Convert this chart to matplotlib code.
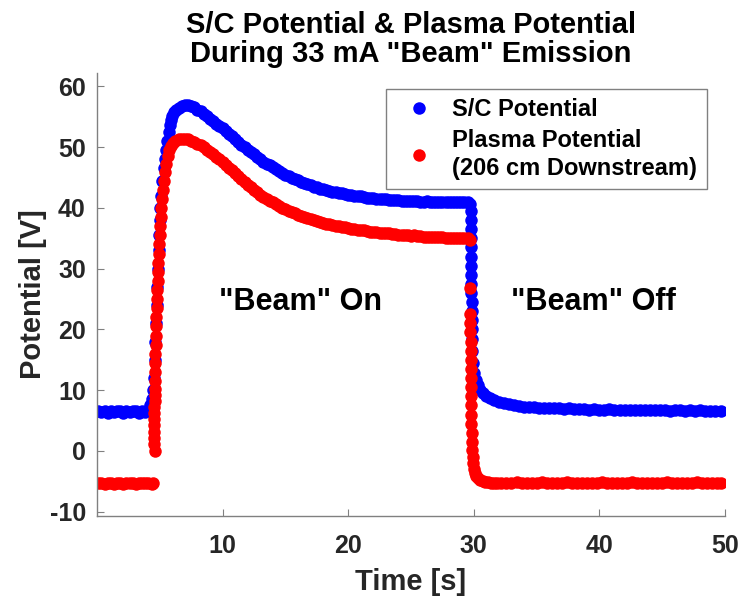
import matplotlib
matplotlib.use('Agg')
import matplotlib.pyplot as plt

# values
# S/C potential (blue)
t_sc = [0.1, 0.35, 0.6, 0.85, 1.1, 1.35, 1.6, 1.85, 2.1, 2.35, 2.6, 2.85, 3.1, 3.35, 3.6, 3.85,
        4.05, 4.25, 4.4, 4.5, 4.55, 4.6, 4.65, 4.7, 4.75, 4.8, 4.85, 4.9, 4.95, 5.0, 5.05, 5.1,
        5.2, 5.3, 5.4, 5.5, 5.6, 5.7, 5.8, 5.9, 6.0, 6.15, 6.3, 6.5, 6.75, 7.0, 7.25, 7.5,
        7.75, 8.0, 8.25, 8.5, 8.75, 9.0, 9.25, 9.5, 9.75, 10.0, 10.25, 10.5, 10.75, 11.0,
        11.25, 11.5, 11.75, 12.0, 12.25, 12.5, 12.75, 13.0, 13.25, 13.5, 13.75, 14.0, 14.25,
        14.5, 14.75, 15.0, 15.25, 15.5, 15.75, 16.0, 16.25, 16.5, 16.75, 17.0, 17.25, 17.5,
        17.75, 18.0, 18.25, 18.5, 18.75, 19.0, 19.25, 19.5, 19.75, 20.0, 20.25, 20.5, 20.75,
        21.0, 21.25, 21.5, 21.75, 22.0, 22.25, 22.5, 22.75, 23.0, 23.25, 23.5, 23.75, 24.0,
        24.25, 24.5, 24.75, 25.0, 25.25, 25.5, 25.75, 26.0, 26.25, 26.5, 26.75, 27.0, 27.25,
        27.5, 27.75, 28.0, 28.25, 28.5, 28.75, 29.0, 29.25, 29.5, 29.7,
        29.77, 29.78, 29.78, 29.79, 29.79, 29.8, 29.8, 29.8, 29.81, 29.81, 29.82, 29.82,
        29.83, 29.84, 29.85, 29.87, 29.9, 30.0, 30.15, 30.3, 30.5, 30.75, 31.0, 31.3, 31.6,
        32.0, 32.4, 32.8, 33.2, 33.6, 34.0, 34.4, 34.8, 35.2, 35.6, 36.0, 36.4, 36.8, 37.2,
        37.6, 38.0, 38.4, 38.8, 39.2, 39.6, 40.0, 40.4, 40.8, 41.2, 41.6, 42.0, 42.4, 42.8,
        43.2, 43.6, 44.0, 44.4, 44.8, 45.2, 45.6, 46.0, 46.4, 46.8, 47.2, 47.6, 48.0, 48.4,
        48.8, 49.2, 49.7]
v_sc = [6.5, 6.4, 6.6, 6.3, 6.5, 6.4, 6.6, 6.5, 6.3, 6.5, 6.4, 6.6, 6.5, 6.3, 6.5, 6.4,
        6.8, 7.6, 8.6, 10.0, 12.0, 15.0, 18.0, 21.0, 24.0, 27.0, 30.0, 33.0, 35.5, 38.0, 40.0, 42.0,
        44.5, 46.5, 48.0, 49.5, 51.0, 52.5, 53.6, 54.5, 55.2, 55.8, 56.2, 56.5, 56.8, 56.9, 56.9, 56.8,
        56.6, 56.2, 55.9, 55.5, 55.1, 54.7, 54.3, 53.9, 53.5, 53.1, 52.7, 52.2, 51.8, 51.3,
        50.9, 50.4, 50.0, 49.6, 49.2, 48.8, 48.4, 48.0, 47.6, 47.3, 47.0, 46.7, 46.4,
        46.1, 45.8, 45.5, 45.2, 45.0, 44.8, 44.6, 44.3, 44.1, 43.9, 43.7, 43.5, 43.4,
        43.2, 43.1, 42.9, 42.8, 42.7, 42.6, 42.5, 42.4, 42.3, 42.2, 42.1, 42.0, 42.0,
        41.9, 41.8, 41.7, 41.7, 41.6, 41.5, 41.5, 41.4, 41.4, 41.3, 41.3, 41.3, 41.3,
        41.2, 41.2, 41.1, 41.1, 41.1, 41.1, 41.0, 41.0, 41.1, 41.0, 41.0, 41.0, 40.9,
        40.9, 41.0, 40.9, 40.9, 41.0, 40.9, 40.9, 40.9, 40.9, 40.7,
        39.5, 38.0, 36.5, 35.0, 33.5, 32.0, 30.5, 29.0, 27.5, 26.0, 24.5, 23.0,
        21.5, 20.0, 18.5, 16.5, 14.5, 12.8, 11.6, 10.8, 10.1, 9.6, 9.1, 8.7, 8.4,
        8.1, 7.9, 7.7, 7.5, 7.4, 7.3, 7.2, 7.2, 7.1, 7.1, 7.0, 7.0, 7.0, 6.9,
        7.0, 6.9, 6.9, 6.9, 6.8, 6.9, 6.8, 6.8, 6.9, 6.8, 6.8, 6.7, 6.8, 6.7,
        6.8, 6.7, 6.7, 6.8, 6.7, 6.7, 6.6, 6.7, 6.7, 6.6, 6.7, 6.6, 6.7, 6.6,
        6.5, 6.6, 6.5]

# plasma potential, 206 cm downstream (red)
t_pl = [0.1, 0.35, 0.6, 0.85, 1.1, 1.35, 1.6, 1.85, 2.1, 2.35, 2.6, 2.85, 3.1, 3.35, 3.6, 3.85,
        4.1, 4.35, 4.5,
        4.58, 4.55, 4.55, 4.55, 4.56, 4.56, 4.57, 4.57, 4.58, 4.59, 4.6, 4.61, 4.62, 4.64, 4.65,
        4.67, 4.69, 4.71, 4.73, 4.75, 4.77, 4.8, 4.82, 4.85, 4.88, 4.91, 4.94, 4.98, 5.02, 5.07,
        5.12, 5.18, 5.25, 5.33, 5.42, 5.52, 5.63, 5.75, 5.9, 6.05, 6.25, 6.5, 6.75, 7.0, 7.25,
        7.5, 7.75, 8.0, 8.25, 8.5, 8.75, 9.0, 9.25, 9.5, 9.75, 10.0, 10.25, 10.5, 10.75, 11.0,
        11.25, 11.5, 11.75, 12.0, 12.25, 12.5, 12.75, 13.0, 13.25, 13.5, 13.75, 14.0, 14.25,
        14.5, 14.75, 15.0, 15.25, 15.5, 15.75, 16.0, 16.25, 16.5, 16.75, 17.0, 17.25, 17.5,
        17.75, 18.0, 18.25, 18.5, 18.75, 19.0, 19.25, 19.5, 19.75, 20.0, 20.25, 20.5, 20.75,
        21.0, 21.25, 21.5, 21.75, 22.0, 22.25, 22.5, 22.75, 23.0, 23.25, 23.5, 23.75, 24.0,
        24.25, 24.5, 24.75, 25.0, 25.25, 25.5, 25.75, 26.0, 26.25, 26.5, 26.75, 27.0, 27.25,
        27.5, 27.75, 28.0, 28.25, 28.5, 28.75, 29.0, 29.25, 29.5, 29.7,
        29.7, 29.7,
        29.72, 29.73, 29.74, 29.74, 29.75, 29.75, 29.76, 29.76, 29.77, 29.78, 29.79, 29.8,
        29.82, 29.84, 29.86, 29.9, 29.95, 30.02, 30.1, 30.2, 30.35, 30.5, 30.7, 30.9, 31.1,
        31.35, 31.6, 31.85, 32.2, 32.6, 33.0, 33.4, 33.8, 34.2, 34.6, 35.0, 35.4, 35.8, 36.2,
        36.6, 37.0, 37.4, 37.8, 38.2, 38.6, 39.0, 39.4, 39.8, 40.2, 40.6, 41.0, 41.4, 41.8,
        42.2, 42.6, 43.0, 43.4, 43.8, 44.2, 44.6, 45.0, 45.4, 45.8, 46.2, 46.6, 47.0, 47.4,
        47.8, 48.2, 48.6, 49.0, 49.4, 49.7]
v_pl = [-5.3, -5.2, -5.4, -5.3, -5.2, -5.4, -5.3, -5.3, -5.4, -5.2, -5.3, -5.3, -5.4, -5.2, -5.3, -5.3,
        -5.2, -5.4, -5.2,
        0.0, 1.2, 2.2, 3.2, 4.2, 5.2, 6.2, 7.2, 8.2, 9.2, 10.2, 11.5, 13.0, 14.5, 16.0,
        17.5, 19.0, 20.5, 22.0, 23.5, 25.0, 26.5, 28.0, 29.5, 31.0, 32.5, 34.0, 35.5, 37.0, 38.5,
        40.0, 41.5, 43.0, 44.5, 46.0, 47.3, 48.5, 49.5, 50.2, 50.7, 51.1, 51.3, 51.4, 51.4, 51.3,
        51.1, 50.9, 50.6, 50.3, 50.0, 49.6, 49.2, 48.8, 48.4, 48.0, 47.5, 47.1, 46.6, 46.2, 45.7,
        45.2, 44.7, 44.3, 43.8, 43.4, 43.0, 42.6, 42.2, 41.8, 41.5, 41.2, 40.9, 40.6,
        40.3, 40.0, 39.8, 39.5, 39.3, 39.1, 38.9, 38.7, 38.5, 38.3, 38.2, 38.0, 37.9,
        37.7, 37.6, 37.4, 37.3, 37.2, 37.1, 37.0, 36.9, 36.8, 36.7, 36.6, 36.5, 36.4,
        36.3, 36.3, 36.2, 36.1, 36.0, 36.0, 35.9, 35.9, 35.8, 35.8, 35.7, 35.7, 35.6,
        35.6, 35.5, 35.5, 35.4, 35.5, 35.4, 35.4, 35.3, 35.3, 35.3, 35.2, 35.2, 35.2,
        35.2, 35.1, 35.1, 35.1, 35.1, 35.0, 35.0, 35.0, 35.0, 34.8,
        26.8, 22.6,
        21.0, 19.5, 18.0, 16.5, 15.0, 13.5, 12.0, 10.5, 9.0, 7.5, 6.0, 4.5,
        3.0, 1.5, 0.2, -1.0, -2.0, -2.9, -3.6, -4.1, -4.5, -4.8, -5.0, -5.1, -5.1,
        -5.2, -5.2, -5.2, -5.2, -5.3, -5.2, -5.1, -5.2, -5.3, -5.2, -5.2, -5.1, -5.2, -5.3,
        -5.2, -5.2, -5.1, -5.2, -5.3, -5.2, -5.2, -5.3, -5.2, -5.1, -5.2, -5.2, -5.3, -5.2,
        -5.2, -5.1, -5.2, -5.3, -5.2, -5.2, -5.2, -5.3, -5.1, -5.2, -5.2, -5.3, -5.2, -5.2,
        -5.1, -5.2, -5.3, -5.2, -5.2, -5.2]

x_ticks = [10, 20, 30, 40, 50]
y_ticks = [-10, 0, 10, 20, 30, 40, 50, 60]

plt.rcParams['font.family'] = ['Liberation Sans', 'DejaVu Sans']
plt.rcParams['font.weight'] = 'bold'
plt.rcParams['axes.unicode_minus'] = False

fig = plt.figure(figsize=(7.38, 5.99), dpi=100)
ax = fig.add_axes([0.1314, 0.1386, 0.851, 0.7394])

ax.plot(t_sc, v_sc, 'o', color='#0000ff', ms=9, mec='none', label='S/C Potential')
ax.plot(t_pl, v_pl, 'o', color='#ff0000', ms=9, mec='none',
        label='Plasma Potential\n(206 cm Downstream)')

ax.set_xlim(0, 50)
ax.set_ylim(-10.7, 62.2)
ax.set_xticks(x_ticks)
ax.set_yticks(y_ticks)

for s in ('top', 'right'):
    ax.spines[s].set_visible(False)
for s in ('left', 'bottom'):
    ax.spines[s].set_color('#808080')
    ax.spines[s].set_linewidth(1.0)
ax.tick_params(direction='in', length=5, color='#808080', labelsize=18,
               labelcolor='#262626')
ax.tick_params(axis='x', pad=13)
ax.tick_params(axis='y', pad=8)
for lab in ax.get_xticklabels() + ax.get_yticklabels():
    lab.set_fontweight('bold')

ax.set_xlabel('Time [s]', fontsize=21, fontweight='bold', color='#262626', labelpad=7)
ax.set_ylabel('Potential [V]', fontsize=21, fontweight='bold', color='#262626', labelpad=2)
ax.set_title('S/C Potential & Plasma Potential\nDuring 33 mA "Beam" Emission',
             fontsize=21, fontweight='bold', color='black', pad=8, linespacing=1.05)

ax.text(16.2, 24.5, '"Beam" On', fontsize=22, fontweight='bold', ha='center', va='center')
ax.text(39.5, 24.5, '"Beam" Off', fontsize=22, fontweight='bold', ha='center', va='center')

leg = ax.legend(loc='upper right', bbox_to_anchor=(0.971, 0.964), borderaxespad=0,
                fontsize=17, fancybox=False, framealpha=1, handletextpad=0.4,
                labelspacing=0.3, borderpad=0.4, handlelength=2.0)
leg.get_frame().set_edgecolor('#808080')
leg.get_frame().set_linewidth(1.0)
leg.get_texts()[1].set_linespacing(1.3)

fig.savefig('out.png', dpi=100)
